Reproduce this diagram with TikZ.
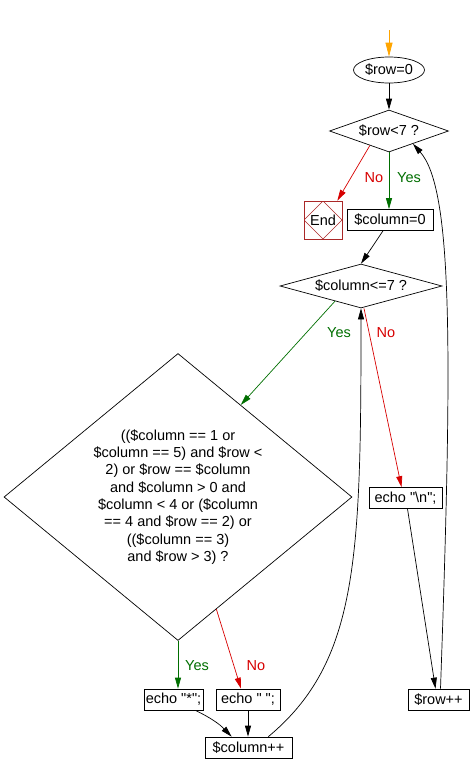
\documentclass[tikz,border=0pt]{standalone}
\usepackage{fontspec}
\setmainfont{Liberation Sans}[Ligatures=TeXOff]
\usetikzlibrary{calc}
\usetikzlibrary{shapes.geometric}
\usetikzlibrary{arrows.meta}
\definecolor{yescol}{RGB}{0,110,0}
\definecolor{nocol}{RGB}{215,0,0}
\definecolor{endcol}{RGB}{170,40,40}
\definecolor{startcol}{RGB}{255,165,0}
\tikzset{every node/.style={font=\fontsize{14.5}{17.3}\selectfont},
  box/.style={draw,rectangle,inner sep=0pt,minimum height=21pt},
  test/.style={draw,diamond,inner sep=0pt},
  flow/.style={-{Triangle[length=11pt,width=6pt]}}}

\begin{document}
\begin{tikzpicture}[x=1pt,y=-1pt,line width=0.7pt]
    \useasboundingbox (0,0) rectangle (472,774);
    \coordinate (start) at (389,30);
    \node [draw,ellipse,inner sep=0pt,minimum width=71pt,minimum height=26pt] (init) at (389,70) {\$row=0};
    \node [test,shape aspect=2.83,minimum width=119pt,minimum height=42pt] (rowtest) at (389,131) {\$row<7 ?};
    \node [box,draw=endcol,minimum width=38pt,minimum height=38pt,
      path picture={\draw [endcol,line width=0.5pt] (path picture bounding box.north) -- (path picture bounding box.east)
        -- (path picture bounding box.south) -- (path picture bounding box.west) -- cycle;}] (end) at (323,220) {End};
    \node [box,minimum width=86pt] (colinit) at (390,220) {\$column=0};
    \node [test,shape aspect=3.68,minimum width=162pt,minimum height=44pt] (coltest) at (361,286) {\$column<=7 ?};
    \node [test,shape aspect=1.21,minimum width=348pt,minimum height=287pt,align=center] (bigtest) at (178,497)
      {((\$column == 1 or\\ \$column == 5) and \$row <\\ 2) or \$row == \$column\\ and \$column > 0 and\\
       \$column < 4 or (\$column\\ == 4 and \$row == 2) or\\ ((\$column == 3)\\ and \$row > 3) ?};
    \node [box,minimum width=59pt] (echostar) at (173.5,699.5) {echo "*";};
    \node [box,minimum width=64pt] (echosp) at (248,699.5) {echo " ";};
    \node [box,minimum width=87pt] (colinc) at (248.5,747.5) {\$column++};
    \node [box,minimum width=73pt] (echon) at (405.5,498) {echo "\textbackslash n";};
    \node [box,minimum width=61pt] (rowinc) at (438.5,699.5) {\$row++};
    % yes / no labels
    \node [text=nocol] (rowno) at (374,178) {No};
    \node [text=yescol] (rowyes) at (409,178) {Yes};
    \node [text=yescol] (colyes) at (339,333) {Yes};
    \node [text=nocol] (colno) at (386,333) {No};
    \node [text=yescol] (bigyes) at (197,666) {Yes};
    \node [text=nocol] (bigno) at (256,666) {No};
    % points on the diamond edges
    \coordinate (rowleft) at ($(rowtest.south)!0.32!(rowtest.west)$);
    \coordinate (rowright) at ($(rowtest.south)!0.4!(rowtest.east)$);
    \coordinate (colleft) at ($(coltest.south)!0.32!(coltest.west)$);
    \coordinate (bigright) at ($(bigtest.north)!0.36!(bigtest.east)$);
    \coordinate (biglow) at ($(bigtest.south)!0.22!(bigtest.east)$);

    \draw [flow,startcol,-{Triangle[length=14pt,width=7pt]}] (start) -- (init.north);
    \draw [flow] (init.south) -- (rowtest.north);
    \draw [flow,nocol] (rowleft) -- ($(end.north east)+(-5,0)$);
    \draw [flow,yescol] (rowtest.south) -- (rowtest.south |- colinit.north);
    \draw [flow] ($(colinit.south)+(-7,0)$) -- (coltest.north);
    \draw [flow,yescol] (colleft) -- (bigright);
    \draw [flow,nocol] ($(coltest.south)+(3,0)$) -- ($(echon.north)+(-4,0)$);
    \draw [flow,yescol] (bigtest.south) -- (bigtest.south |- echostar.north);
    \draw [flow,nocol] (biglow) -- ($(echosp.north)+(-7,0)$);
    \draw [flow] ($(echostar.south east)+(-8,0)$) to[bend left=10] ($(colinc.north west)+(27,0)$);
    \draw [flow] (echosp.south) -- (echosp.south |- colinc.north);
    \draw [flow] ($(colinc.north east)+(-24,0)$) .. controls +(90,-75) and +(0,250) .. (coltest.south);
    \draw [flow] ($(echon.south)+(2,0)$) -- ($(rowinc.north)+(-3,0)$);
    \draw [flow] ($(rowinc.north)+(2,0)$) .. controls +(12,-340) and +(40,45) .. (rowright);
\end{tikzpicture}
\end{document}
